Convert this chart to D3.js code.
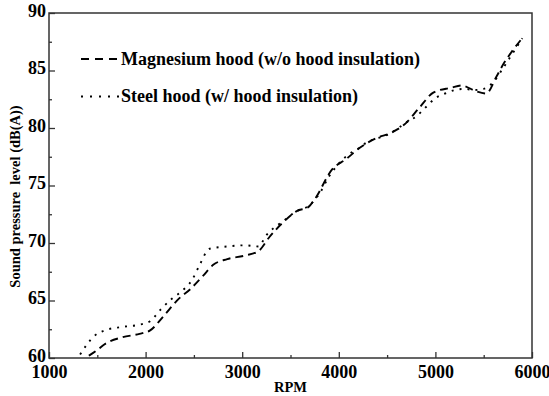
<!DOCTYPE html>
<html>
<head>
<meta charset="utf-8">
<script src="https://cdn.jsdelivr.net/npm/d3@7"></script>
<style>
  body { margin: 0; background: #fff; }
  svg text { font-family: "Liberation Serif", "Times New Roman", serif; font-weight: bold; fill: #000; }
</style>
</head>
<body>
<div id="chart"></div>
<script>
// data
var rpmMg = [1413, 1500, 1576, 1757, 1937, 2047, 2192, 2337, 2464, 2590, 2700, 2845, 3025, 3170, 3280, 3424, 3570, 3680, 3750, 3931, 4076, 4221, 4384, 4547, 4692, 4837, 4982, 5163, 5272, 5417, 5526, 5634, 5707, 5779, 5888];
var dbMg  = [60.2, 60.7, 61.2, 61.8, 62.1, 62.4, 63.7, 65.1, 66.0, 67.1, 68.1, 68.6, 68.9, 69.3, 70.5, 71.8, 72.8, 73.1, 73.8, 76.4, 77.3, 78.3, 79.1, 79.6, 80.4, 81.8, 83.1, 83.5, 83.7, 83.2, 83.0, 84.5, 85.6, 86.5, 87.7];

var rpmSteel = [1322, 1395, 1467, 1576, 1757, 1938, 2047, 2155, 2264, 2373, 2482, 2554, 2663, 2845, 3025, 3170, 3243, 3424, 3570, 3700, 3800, 3900, 4000, 4100, 4200, 4300, 4400, 4500, 4600, 4700, 4800, 4900, 5000, 5100, 5200, 5300, 5400, 5500, 5600, 5700, 5800, 5900];
var dbSteel  = [60.3, 61.2, 61.9, 62.4, 62.7, 62.9, 63.2, 64.2, 65.1, 65.8, 66.8, 68.0, 69.5, 69.7, 69.8, 69.7, 70.6, 71.9, 72.8, 73.3, 74.3, 75.8, 76.9, 77.7, 78.2, 78.8, 79.1, 79.4, 79.9, 80.5, 81.0, 81.8, 82.6, 83.0, 83.3, 83.4, 83.3, 83.4, 84.0, 85.2, 86.5, 87.8];

var legendLabels = ["Magnesium hood (w/o hood insulation)", "Steel hood (w/ hood insulation)"];
var xTicks = [1000, 2000, 3000, 4000, 5000, 6000];
var yTicks = [60, 65, 70, 75, 80, 85, 90];

// set the dimensions and margins of the graph
var margin = {top: 13, right: 17, bottom: 38, left: 49},
    width = 549 - margin.left - margin.right,
    height = 396 - margin.top - margin.bottom;

var x = d3.scaleLinear().domain([1000, 6000]).range([0, width]);
var y = d3.scaleLinear().domain([60, 90]).range([height, 0]);

var svg = d3.select("#chart").append("svg")
    .attr("width", 549)
    .attr("height", 396)
  .append("g")
    .attr("transform", "translate(" + margin.left + "," + margin.top + ")");

function styleAxis(g) {
  g.select(".domain").remove();
  g.selectAll("line").attr("stroke", "#333").attr("stroke-width", 1.3);
  g.selectAll("text")
    .style("font-family", "'Liberation Serif', 'Times New Roman', serif")
    .style("font-weight", "bold")
    .style("font-size", "18px")
    .attr("fill", "#000");
}

// minor ticks
svg.append("g")
    .attr("transform", "translate(0," + height + ")")
    .call(d3.axisBottom(x).tickValues(d3.range(1500, 6000, 1000)).tickSize(-3).tickFormat(""))
    .call(styleAxis);
svg.append("g")
    .call(d3.axisLeft(y).tickValues(d3.range(62.5, 90, 5)).tickSize(-3).tickFormat(""))
    .call(styleAxis);

// add the x Axis
svg.append("g")
    .attr("transform", "translate(0," + height + ")")
    .call(d3.axisBottom(x).tickValues(xTicks).tickSize(-6).tickPadding(7).tickFormat(d3.format("d")))
    .call(styleAxis);

// add the y Axis
svg.append("g")
    .call(d3.axisLeft(y).tickValues(yTicks).tickSize(-6).tickPadding(3))
    .call(styleAxis)
    .call(function(g) { g.selectAll("text").attr("dy", "0.19em"); });

// frame
svg.append("rect")
    .attr("width", width).attr("height", height)
    .attr("fill", "none").attr("stroke", "#333").attr("stroke-width", 1.5);

var line = d3.line()
    .x(function(d) { return x(d[0]); })
    .y(function(d) { return y(d[1]); })
    .curve(d3.curveMonotoneX);

var series = [
  {data: d3.zip(rpmMg, dbMg), dash: "8,5"},
  {data: d3.zip(rpmSteel, dbSteel), dash: "2,6"}
];

svg.selectAll(".series")
    .data(series)
  .enter().append("path")
    .attr("class", "series")
    .attr("d", function(d) { return line(d.data); })
    .attr("fill", "none")
    .attr("stroke", "#000")
    .attr("stroke-width", 1.9)
    .attr("stroke-dasharray", function(d) { return d.dash; });

// legend
var legendDash = ["8,6", "2,7"];
var legend = svg.selectAll(".legend")
    .data(legendLabels)
  .enter().append("g")
    .attr("class", "legend")
    .attr("transform", function(d, i) { return "translate(32," + (46 + i * 37.5) + ")"; });

legend.append("line")
    .attr("x1", 0).attr("x2", 38)
    .attr("stroke", "#000")
    .attr("stroke-width", 1.9)
    .attr("stroke-dasharray", function(d, i) { return legendDash[i]; });

legend.append("text")
    .attr("x", 40)
    .attr("dy", "0.33em")
    .style("font-size", "18px")
    .text(function(d) { return d; });

// axis labels
svg.append("text")
    .attr("x", width / 2)
    .attr("y", 391.5 - margin.top)
    .attr("text-anchor", "middle")
    .style("font-size", "14.5px")
    .text("RPM");

svg.append("text")
    .attr("transform", "rotate(-90)")
    .attr("x", -(196.5 - margin.top))
    .attr("y", 20 - margin.left)
    .attr("text-anchor", "middle")
    .style("font-size", "14.5px")
    .style("white-space", "pre")
    .text("Sound pressure  level (dB(A))");
</script>
</body>
</html>
